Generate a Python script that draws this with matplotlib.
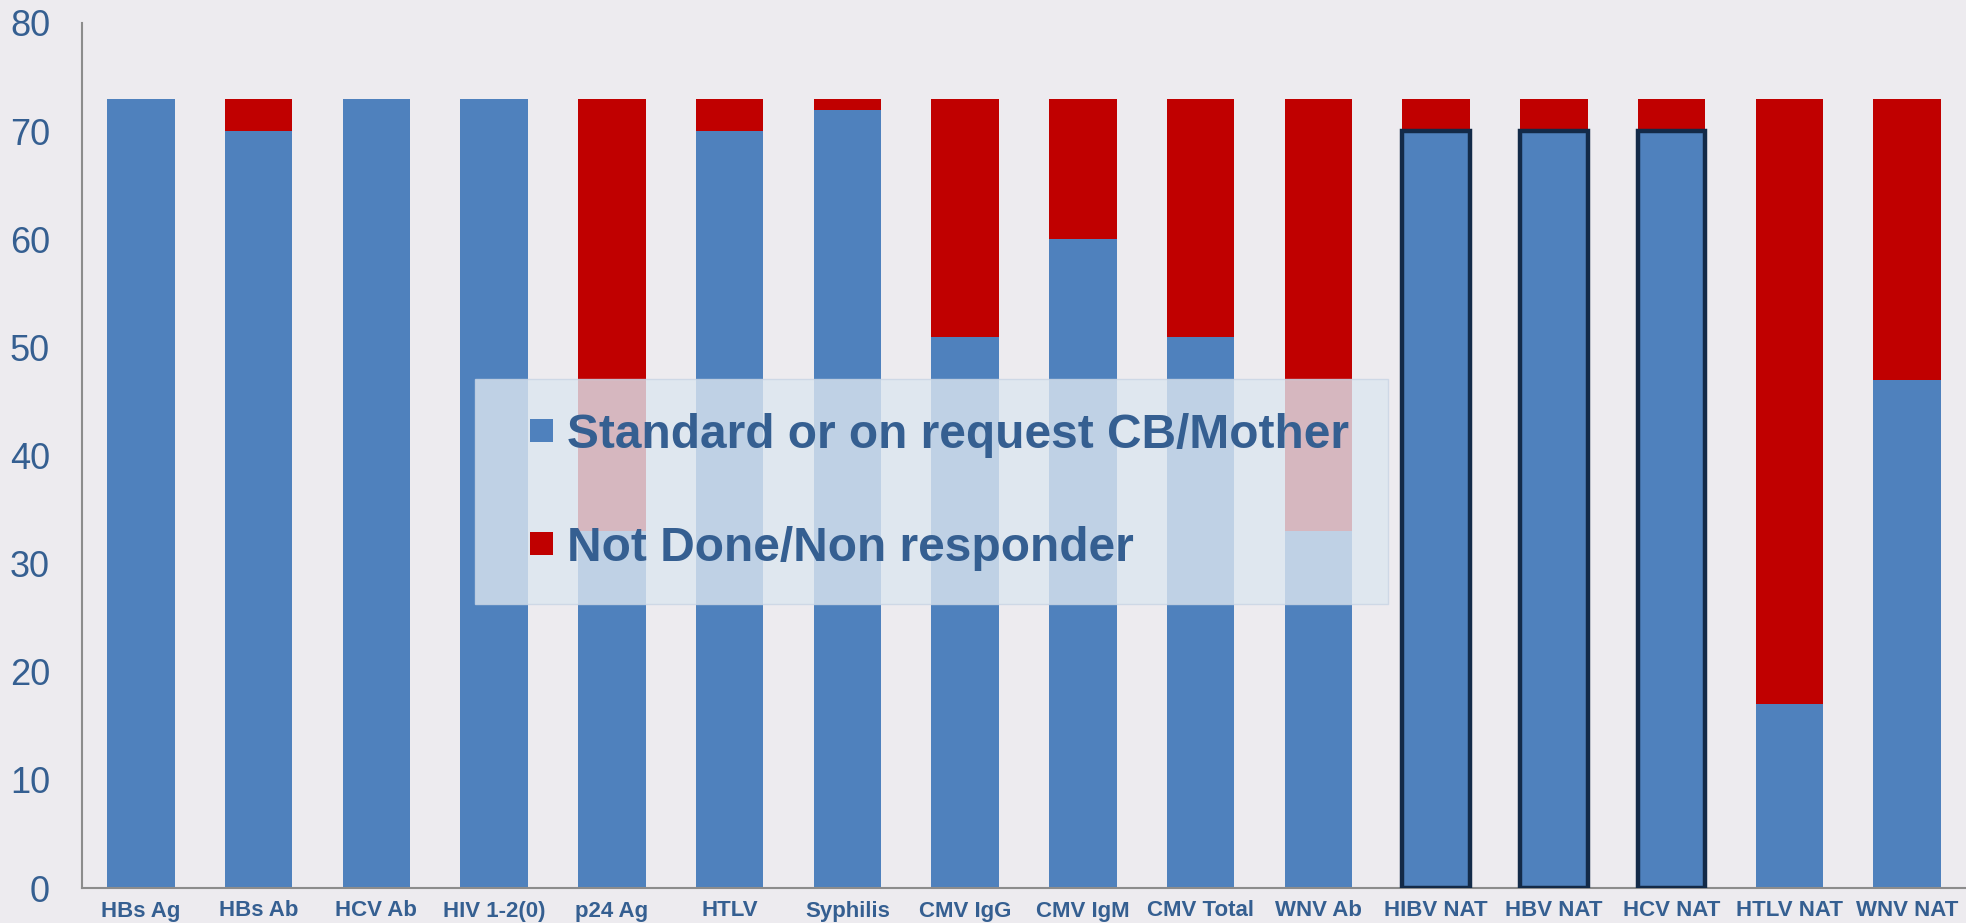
import matplotlib
matplotlib.use("Agg")
import matplotlib.pyplot as plt
from matplotlib.patches import Patch, Rectangle
from matplotlib.legend_handler import HandlerPatch
from matplotlib import font_manager

categories = ["HBs Ag", "HBs Ab", "HCV Ab", "HIV 1-2(0)", "p24 Ag", "HTLV", "Syphilis",
              "CMV IgG", "CMV IgM", "CMV Total", "WNV Ab", "HIBV NAT", "HBV NAT",
              "HCV NAT", "HTLV NAT", "WNV NAT"]
standard = [73, 70, 73, 73, 33, 70, 72, 51, 60, 51, 33, 70, 70, 70, 17, 47]
not_done = [0, 3, 0, 0, 40, 3, 1, 22, 13, 22, 40, 3, 3, 3, 56, 26]
outlined = ["HIBV NAT", "HBV NAT", "HCV NAT"]
series_labels = ["Standard or on request CB/Mother", "Not Done/Non responder"]
yticks = [0, 10, 20, 30, 40, 50, 60, 70, 80]

names = {f.name for f in font_manager.fontManager.ttflist}
narrow = "Liberation Sans Narrow" if "Liberation Sans Narrow" in names else "Liberation Sans"

BG = "#edebef"
BLUE = "#4f81bd"
RED = "#c00000"
TXT = "#355f91"

fig = plt.figure(figsize=(19.66, 9.23), dpi=100, facecolor=BG)
ax = fig.add_axes([82 / 1966, 1 - 888 / 923, 1 - 82 / 1966, (888 - 23) / 923])
ax.set_facecolor(BG)

x = list(range(len(categories)))
w = 0.575
ax.bar(x, standard, width=w, color=BLUE, zorder=2)
ax.bar(x, not_done, width=w, bottom=standard, color=RED, zorder=2)
for i, c in enumerate(categories):
    if c in outlined:
        ax.bar(i, standard[i], width=w, color="none", edgecolor="#132a48",
               linewidth=3.2, zorder=3)

ax.set_xlim(-0.5, len(categories) - 0.5)
ax.set_ylim(0, 80)
ax.set_yticks(yticks)
ax.set_xticks(x)
ax.set_xticklabels(categories, fontfamily=narrow, fontweight="bold", fontsize=16, color=TXT)
for lab in ax.get_yticklabels():
    lab.set_fontfamily("Liberation Sans")
    lab.set_fontsize(26)
    lab.set_color(TXT)
ax.tick_params(axis="y", length=0, pad=23)
ax.tick_params(axis="x", length=0, pad=9)
for s in ["top", "right"]:
    ax.spines[s].set_visible(False)
for s in ["left", "bottom"]:
    ax.spines[s].set_color("#8c8c8c")
    ax.spines[s].set_linewidth(1.5)

SQ = 16.5  # legend square size in points


def square(legend, orig_handle, xdescent, ydescent, width, height, fontsize):
    return Rectangle((width - SQ - xdescent, (height - SQ) / 2 - ydescent), SQ, SQ)


handles = [Patch(facecolor=BLUE, edgecolor="none"), Patch(facecolor=RED, edgecolor="none")]
FS = 34.5
leg = ax.legend(handles, series_labels,
                loc="upper left",
                bbox_to_anchor=(475 / 1966, 1 - 379 / 923, (1388 - 475) / 1966, 0),
                bbox_transform=fig.transFigure, mode="expand",
                prop={"family": narrow, "weight": "bold", "size": FS},
                labelcolor=TXT, frameon=True, fancybox=False,
                handler_map={Patch: HandlerPatch(patch_func=square)},
                handlelength=(15.5 + SQ) / FS, handleheight=0.7, handletextpad=0.29,
                labelspacing=1.42, borderpad=0.7, borderaxespad=0)
frame = leg.get_frame()
frame.set_facecolor((220 / 255, 230 / 255, 240 / 255, 0.78))
frame.set_edgecolor((200 / 255, 212 / 255, 228 / 255, 0.8))
frame.set_linewidth(1)
leg.set_zorder(5)

fig.savefig("out.png", dpi=100, facecolor=BG)
